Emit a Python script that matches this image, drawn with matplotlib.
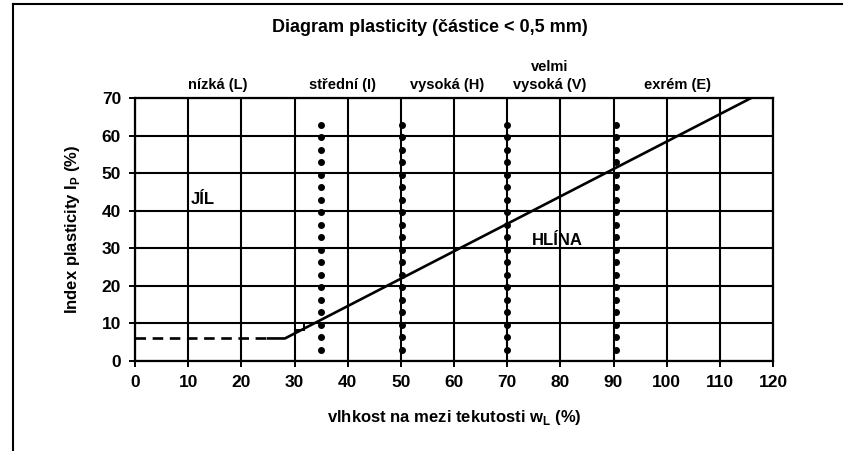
import matplotlib.pyplot as plt
from matplotlib.patches import Rectangle
from matplotlib.lines import Line2D

plt.rcParams['font.family'] = ['Liberation Sans', 'DejaVu Sans']
plt.rcParams['font.weight'] = 'bold'

# A-line (Casagrande): horizontal part, then Ip = 0.73 (wL - 20)
a_dash_x = [0, 25]
a_dash_y = [6, 6]
a_line_x = [25, 28.2, 115.9]
a_line_y = [6, 6, 70]

# plasticity class borders (dotted)
border_x = [35, 50.3, 70, 90.4]
border_dots_y = [3 + 3.33 * i for i in range(19)]

class_labels = ['nízká (L)', 'střední (I)', 'vysoká (H)', 'velmi\nvysoká (V)', 'exrém (E)']
class_label_x = [15.5, 39, 58.7, 78, 102]

x_ticks = list(range(0, 121, 10))
y_ticks = list(range(0, 71, 10))

fig = plt.figure(figsize=(8.57, 4.51), dpi=100)
ax = fig.add_axes([135 / 857, 1 - 361 / 451, 638 / 857, 263 / 451])

ax.set_xlim(0, 120)
ax.set_ylim(0, 70)
ax.set_xticks(x_ticks)
ax.set_yticks(y_ticks)
ax.grid(True, color='black', linewidth=1.5)
ax.set_axisbelow(True)
for s in ax.spines.values():
    s.set_linewidth(1.6)
ax.tick_params(direction='out', length=4, width=1.4, labelsize=12.5, pad=6)
for lab in ax.get_xticklabels() + ax.get_yticklabels():
    lab.set_fontweight('bold')

# small box where the line crosses Ip = 10
ax.add_patch(Rectangle((30, 8.2), 1.8, 1.8, facecolor='white', edgecolor='black',
                       linewidth=1.4, zorder=1.5))

# A-line
ax.plot(a_dash_x, a_dash_y, color='black', linewidth=1.9, linestyle=(0, (4, 2.5)))
ax.plot(a_line_x, a_line_y, color='black', linewidth=1.9)

# dotted borders
for bx in border_x:
    ax.plot([bx] * len(border_dots_y), border_dots_y, linestyle='none', marker='o',
            markersize=4, color='black', zorder=4)

ax.text(10.5, 43, 'JÍL', fontsize=12, fontweight='bold', ha='left', va='center')
ax.text(79.5, 32, 'HLÍNA', fontsize=12, fontweight='bold', ha='center', va='center')

for lab, lx in zip(class_labels, class_label_x):
    ax.text(lx, 71.5, lab, fontsize=10.5, fontweight='bold', ha='center', va='bottom',
            linespacing=1.4)

ax.set_xlabel('vlhkost na mezi tekutosti w$_\\mathregular{L}$ (%)', fontsize=12,
              fontweight='bold', labelpad=13)
ax.set_ylabel('Index plasticity I$_\\mathregular{P}$ (%)', fontsize=12,
              fontweight='bold', labelpad=14)

fig.text(430 / 857, 1 - 28 / 451, 'Diagram plasticity (částice < 0,5 mm)',
         fontsize=13, fontweight='bold', ha='center', va='center')

# outer frame
fig.add_artist(Line2D([13 / 857, 842 / 857], [1 - 4 / 451, 1 - 4 / 451],
                      color='black', linewidth=1.5))
fig.add_artist(Line2D([13 / 857, 13 / 857], [0, 1 - 4 / 451],
                      color='black', linewidth=1.5))

fig.savefig('out.png', dpi=100)
